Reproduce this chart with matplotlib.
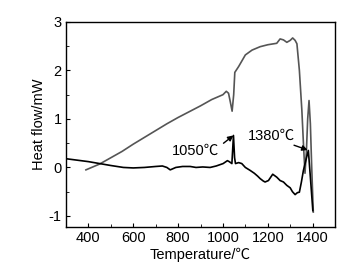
import numpy as np
import matplotlib
matplotlib.use('Agg')
import matplotlib.pyplot as plt
from matplotlib.ticker import MultipleLocator

plt.rcParams['font.family'] = ['Liberation Sans', 'Noto Sans CJK SC', 'DejaVu Sans']
plt.rcParams['font.size'] = 10
plt.rcParams['axes.unicode_minus'] = False

# gray curve
t_gray = [389, 450, 500, 550, 600, 650, 700, 750, 800, 850, 900, 950, 980,
          1000, 1015, 1025, 1033, 1041, 1048, 1053, 1070, 1100, 1130, 1166,
          1200, 1240, 1255, 1270, 1285, 1300, 1311, 1322, 1330, 1341, 1352,
          1360, 1366, 1372, 1378, 1384, 1390, 1396, 1403]
hf_gray = [-0.05, 0.07, 0.2, 0.33, 0.48, 0.62, 0.76, 0.9, 1.03, 1.15, 1.27,
           1.4, 1.46, 1.5, 1.57, 1.53, 1.35, 1.16, 1.5, 1.96, 2.08, 2.32,
           2.42, 2.49, 2.53, 2.56, 2.65, 2.63, 2.58, 2.62, 2.67, 2.62, 2.55,
           2.0, 1.18, 0.4, -0.12, 0.3, 1.0, 1.38, 0.9, 0.0, -0.92]

# black curve
t_black = [300, 350, 400, 450, 500, 556, 600, 650, 700, 730, 750, 765, 790,
           820, 854, 880, 910, 943, 970, 1001, 1020, 1028, 1040, 1047, 1052,
           1056, 1070, 1084, 1100, 1121, 1140, 1155, 1166, 1180, 1188, 1203,
           1222, 1240, 1255, 1270, 1285, 1300, 1310, 1322, 1332, 1341, 1350,
           1359, 1370, 1381, 1390, 1401]
hf_black = [0.18, 0.15, 0.12, 0.08, 0.04, 0.0, -0.01, 0.0, 0.02, 0.03, 0.0,
            -0.05, 0.0, 0.02, 0.02, 0.0, 0.01, 0.0, 0.03, 0.08, 0.14, 0.12,
            0.08, 0.66, 0.2, 0.08, 0.1, 0.08, 0.0, -0.06, -0.12, -0.18, -0.23,
            -0.28, -0.3, -0.27, -0.14, -0.2, -0.27, -0.3, -0.37, -0.42, -0.5,
            -0.56, -0.52, -0.51, -0.3, -0.06, 0.15, 0.35, -0.2, -0.89]

fig = plt.figure(figsize=(3.49, 2.71), dpi=100)
ax = fig.add_axes([0.189, 0.162, 0.771, 0.757])

ax.plot(t_gray, hf_gray, color='#555555', lw=1.2)
ax.plot(t_black, hf_black, color='black', lw=1.2)

ax.set_xlim(300, 1500)
ax.set_ylim(-1.23, 3)
ax.xaxis.set_major_locator(MultipleLocator(200))
ax.xaxis.set_minor_locator(MultipleLocator(100))
ax.yaxis.set_major_locator(MultipleLocator(1))
ax.yaxis.set_minor_locator(MultipleLocator(0.5))
ax.tick_params(which='both', direction='in', top=False, right=False,
               labelsize=10.5, pad=3)
ax.tick_params(which='major', length=3)
ax.tick_params(which='minor', length=2)
for s in ax.spines.values():
    s.set_linewidth(1.0)

ax.set_xlabel('Temperature/℃', fontsize=10.5, labelpad=2)
ax.set_ylabel('Heat flow/mW', fontsize=10.5, labelpad=2)

ax.annotate('1050℃', xy=(1047, 0.66), xytext=(774, 0.35),
            fontsize=10.5, va='center',
            arrowprops=dict(arrowstyle='-|>', color='black', lw=1,
                            mutation_scale=8, shrinkA=1, shrinkB=0,
                            relpos=(1, 0.8)))
ax.annotate('1380℃', xy=(1378, 0.36), xytext=(1113, 0.66),
            fontsize=10.5, va='center',
            arrowprops=dict(arrowstyle='-|>', color='black', lw=1,
                            mutation_scale=8, shrinkA=0, shrinkB=0,
                            relpos=(0.8, 0)))

fig.savefig('out.png', dpi=100)
